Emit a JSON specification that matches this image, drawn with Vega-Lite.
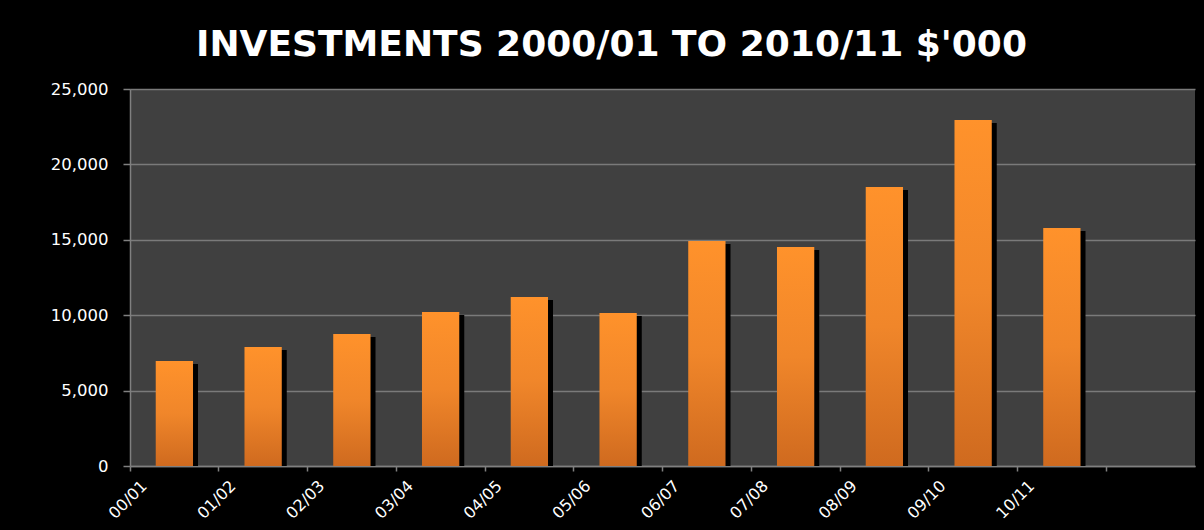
{
  "$schema": "https://vega.github.io/schema/vega-lite/v6.json",
  "autosize": "none",
  "width": 1065,
  "height": 377,
  "padding": {"left": 130, "top": 89, "right": 9, "bottom": 64},
  "background": "#000000",
  "title": {
    "text": "INVESTMENTS 2000/01 TO 2010/11 $'000",
    "font": "DejaVu Sans",
    "fontWeight": "bold",
    "fontSize": 36,
    "color": "#ffffff",
    "anchor": "middle",
    "offset": 17,
    "dx": -51
  },
  "config": {
    "view": {"fill": "#404040", "stroke": null},
    "axis": {
      "labelFont": "DejaVu Sans",
      "labelColor": "#ffffff",
      "domainColor": "#808080",
      "tickColor": "#808080",
      "gridColor": "#7a7a7a",
      "domainWidth": 1.5,
      "tickWidth": 1.5
    }
  },
  "data": {
    "values": [
      {"year": "00/01", "value": 6960},
      {"year": "01/02", "value": 7890},
      {"year": "02/03", "value": 8750},
      {"year": "03/04", "value": 10210},
      {"year": "04/05", "value": 11210},
      {"year": "05/06", "value": 10150},
      {"year": "06/07", "value": 14920},
      {"year": "07/08", "value": 14520},
      {"year": "08/09", "value": 18500},
      {"year": "09/10", "value": 22950},
      {"year": "10/11", "value": 15780}
    ]
  },
  "encoding": {
    "x": {
      "field": "year",
      "type": "nominal",
      "sort": null,
      "scale": {
        "domain": ["00/01", "01/02", "02/03", "03/04", "04/05", "05/06", "06/07", "07/08", "08/09", "09/10", "10/11", " "],
        "paddingInner": 0,
        "paddingOuter": 0
      },
      "axis": {
        "title": null,
        "bandPosition": 0,
        "labelAngle": -45,
        "labelAlign": "right",
        "labelBaseline": "middle",
        "labelFontSize": 16,
        "labelOffset": -30,
        "labelPadding": 12,
        "tickSize": 5,
        "grid": false
      }
    },
    "y": {
      "field": "value",
      "type": "quantitative",
      "scale": {"domain": [0, 25000], "nice": false},
      "axis": {
        "title": null,
        "values": [0, 5000, 10000, 15000, 20000, 25000],
        "format": ",d",
        "labelFontSize": 16.5,
        "labelPadding": 15,
        "tickSize": 7,
        "grid": true,
        "gridWidth": 1.5
      }
    }
  },
  "layer": [
    {
      "mark": {
        "type": "bar",
        "width": {"band": 0.42},
        "color": "#000000",
        "xOffset": 5,
        "yOffset": 3,
        "clip": true
      }
    },
    {
      "mark": {
        "type": "bar",
        "width": {"band": 0.42},
        "color": {
          "x1": 0, "y1": 0, "x2": 0, "y2": 1,
          "gradient": "linear",
          "stops": [
            {"offset": 0, "color": "#ff922b"},
            {"offset": 0.5, "color": "#f0862a"},
            {"offset": 1, "color": "#cf6a1f"}
          ]
        }
      }
    }
  ]
}
